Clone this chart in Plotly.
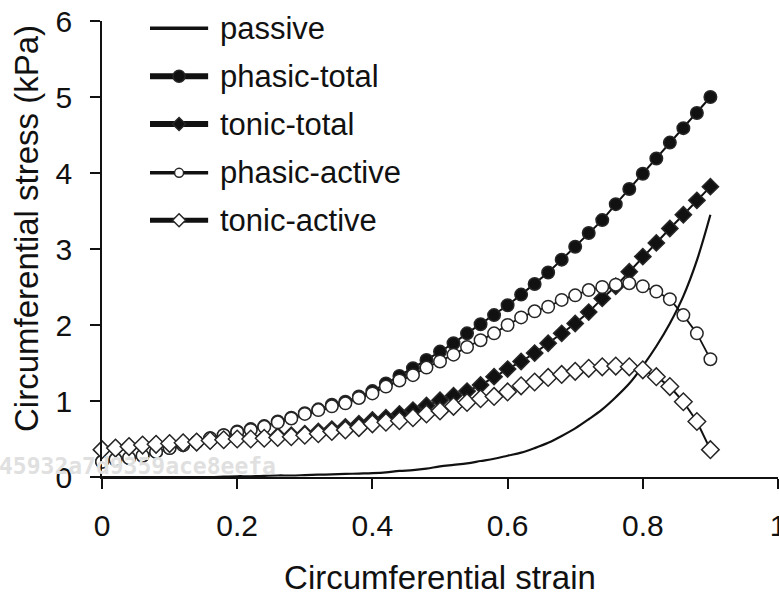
import plotly.graph_objects as go

# Circumferential strain grid (every 0.02 up to 0.9)
strain = [0.00, 0.02, 0.04, 0.06, 0.08, 0.10, 0.12, 0.14, 0.16, 0.18,
          0.20, 0.22, 0.24, 0.26, 0.28, 0.30, 0.32, 0.34, 0.36, 0.38,
          0.40, 0.42, 0.44, 0.46, 0.48, 0.50, 0.52, 0.54, 0.56, 0.58,
          0.60, 0.62, 0.64, 0.66, 0.68, 0.70, 0.72, 0.74, 0.76, 0.78,
          0.80, 0.82, 0.84, 0.86, 0.88, 0.90]

# Circumferential stress (kPa)
passive = [0.0, 0.0, 0.0, 0.0, 0.0, 0.0, 0.0, 0.0, 0.0, 0.005,
           0.01, 0.01, 0.015, 0.02, 0.02, 0.025, 0.03, 0.035, 0.04, 0.045,
           0.05, 0.06, 0.08, 0.09, 0.11, 0.14, 0.16, 0.18, 0.21, 0.24,
           0.28, 0.32, 0.38, 0.45, 0.54, 0.64, 0.76, 0.89, 1.05, 1.23,
           1.46, 1.72, 2.02, 2.38, 2.85, 3.45]

phasic_total = [0.20, 0.23, 0.25, 0.28, 0.33, 0.38, 0.42, 0.46, 0.51, 0.55,
                0.60, 0.63, 0.67, 0.73, 0.78, 0.84, 0.89, 0.95, 0.99, 1.06,
                1.13, 1.23, 1.33, 1.43, 1.54, 1.65, 1.76, 1.89, 2.01, 2.13,
                2.26, 2.40, 2.54, 2.69, 2.86, 3.03, 3.21, 3.38, 3.59, 3.79,
                3.99, 4.19, 4.40, 4.59, 4.79, 5.00]

tonic_total = [0.36, 0.38, 0.40, 0.42, 0.43, 0.44, 0.45, 0.46, 0.48, 0.49,
               0.51, 0.51, 0.52, 0.54, 0.55, 0.57, 0.60, 0.63, 0.66, 0.70,
               0.75, 0.78, 0.83, 0.88, 0.94, 1.01, 1.07, 1.13, 1.21, 1.32,
               1.42, 1.52, 1.63, 1.76, 1.89, 2.02, 2.17, 2.35, 2.51, 2.70,
               2.90, 3.08, 3.27, 3.45, 3.64, 3.82]

phasic_active = [0.20, 0.23, 0.25, 0.28, 0.33, 0.38, 0.42, 0.46, 0.51, 0.55,
                 0.59, 0.62, 0.66, 0.72, 0.77, 0.83, 0.88, 0.93, 0.97, 1.04,
                 1.10, 1.19, 1.27, 1.34, 1.44, 1.52, 1.61, 1.71, 1.80, 1.89,
                 2.00, 2.10, 2.18, 2.24, 2.33, 2.39, 2.46, 2.50, 2.53, 2.55,
                 2.51, 2.44, 2.34, 2.13, 1.89, 1.55]

tonic_active = [0.36, 0.38, 0.40, 0.42, 0.43, 0.44, 0.45, 0.46, 0.48, 0.49,
                0.50, 0.50, 0.51, 0.52, 0.53, 0.55, 0.57, 0.60, 0.62, 0.65,
                0.70, 0.72, 0.74, 0.78, 0.83, 0.87, 0.93, 0.98, 1.03, 1.06,
                1.12, 1.20, 1.25, 1.31, 1.35, 1.39, 1.43, 1.45, 1.46, 1.45,
                1.41, 1.32, 1.19, 0.99, 0.73, 0.36]

x_ticks = [0, 0.2, 0.4, 0.6, 0.8, 1]
x_tick_labels = ["0", "0.2", "0.4", "0.6", "0.8", "1"]
y_ticks = [0, 1, 2, 3, 4, 5, 6]
y_tick_labels = ["0", "1", "2", "3", "4", "5", "6"]

series_names = ["passive", "phasic-total", "tonic-total", "phasic-active", "tonic-active"]

FONT = "Liberation Sans, Arial, sans-serif"
INK = "#111111"
EDGE = "#262626"

# Style of each series: line width, marker symbol, marker fill, marker size
styles = {
    "passive": dict(width=2.2, symbol=None, fill=None, size=0),
    "phasic-total": dict(width=2.0, symbol="circle", fill=INK, size=12.5),
    "tonic-total": dict(width=2.0, symbol="diamond", fill=INK, size=12.5),
    "phasic-active": dict(width=1.8, symbol="circle", fill="white", size=12.5),
    "tonic-active": dict(width=2.0, symbol="diamond", fill="white", size=13.5),
}
# Legend sample styles (thicker lines, smaller markers)
legend_styles = {
    "passive": dict(width=3.5, size=0),
    "phasic-total": dict(width=6, size=12),
    "tonic-total": dict(width=6, size=10),
    "phasic-active": dict(width=3.5, size=9),
    "tonic-active": dict(width=5, size=10),
}

series_values = [passive, phasic_total, tonic_total, phasic_active, tonic_active]

fig = go.Figure()

for name, vals in zip(series_names, series_values):
    st = styles[name]
    if st["symbol"] is None:
        fig.add_trace(go.Scatter(x=strain, y=vals, mode="lines", name=name,
                                 line=dict(color=INK, width=st["width"], shape="spline"),
                                 showlegend=False, cliponaxis=False))
    else:
        fig.add_trace(go.Scatter(
            x=strain, y=vals, mode="lines+markers", name=name,
            line=dict(color=INK, width=st["width"]),
            marker=dict(symbol=st["symbol"], size=st["size"], color=st["fill"],
                        line=dict(color=EDGE, width=1.5)),
            showlegend=False, cliponaxis=False))

# Hand-drawn legend on overlay axes spanning the plot area (0..1 both ways)
leg_x0, leg_x1, leg_text_x = 0.071, 0.157, 0.172
leg_rows = [0.984, 0.879, 0.774, 0.667, 0.563]
for name, row in zip(series_names, leg_rows):
    st = styles[name]
    ls = legend_styles[name]
    mid = (leg_x0 + leg_x1) / 2
    fig.add_trace(go.Scatter(
        x=[leg_x0, leg_x1], y=[row, row], mode="lines", xaxis="x2", yaxis="y2",
        line=dict(color=INK, width=ls["width"]), showlegend=False,
        hoverinfo="skip", cliponaxis=False))
    if st["symbol"] is not None:
        fig.add_trace(go.Scatter(
            x=[mid], y=[row], mode="markers", xaxis="x2", yaxis="y2",
            marker=dict(symbol=st["symbol"], size=ls["size"], color=st["fill"],
                        line=dict(color=EDGE, width=1.5)),
            showlegend=False, hoverinfo="skip", cliponaxis=False))
    fig.add_annotation(x=leg_text_x, y=row, xref="paper", yref="paper",
                       text=name, showarrow=False, xanchor="left", yanchor="middle",
                       font=dict(family=FONT, size=31, color=INK))

# Vertical axis title, placed slightly above the plot's vertical centre
fig.add_annotation(x=-0.1125, y=0.546, xref="paper", yref="paper",
                   text="Circumferential stress (kPa)", textangle=-90,
                   showarrow=False, xanchor="center", yanchor="middle",
                   font=dict(family=FONT, size=33, color=INK))

# Faint identifier text along the baseline
fig.add_annotation(x=-0.156, y=0.024, xref="paper", yref="paper",
                   text="<b>45932a7d9359ace8eefa</b>", showarrow=False,
                   xanchor="left", yanchor="middle",
                   font=dict(family="DejaVu Sans Mono", size=23, color="#e0e0e0"))

axis_common = dict(
    showline=True, linecolor=INK, linewidth=1.5, mirror=False,
    ticks="outside", ticklen=10, tickwidth=1.5, tickcolor=INK,
    showgrid=False, zeroline=False, ticklabeloverflow="allow",
    automargin=False,
    tickfont=dict(family=FONT, size=30, color=INK),
)

fig.update_layout(
    width=779, height=596,
    margin=dict(l=102, r=1, t=21, b=119, pad=0, autoexpand=False),
    paper_bgcolor="white", plot_bgcolor="white",
    xaxis=dict(range=[0, 1], tickvals=x_ticks, ticktext=x_tick_labels,
               ticklabelstandoff=11,
               title=dict(text="Circumferential strain",
                          font=dict(family=FONT, size=33, color=INK), standoff=34),
               **axis_common),
    yaxis=dict(range=[0, 6], tickvals=y_ticks, ticktext=y_tick_labels,
               ticklabelstandoff=12, **axis_common),
    xaxis2=dict(range=[0, 1], overlaying="x", anchor="y", visible=False),
    yaxis2=dict(range=[0, 1], overlaying="y", anchor="x", visible=False),
    showlegend=False,
)

fig.write_html("out.html")
